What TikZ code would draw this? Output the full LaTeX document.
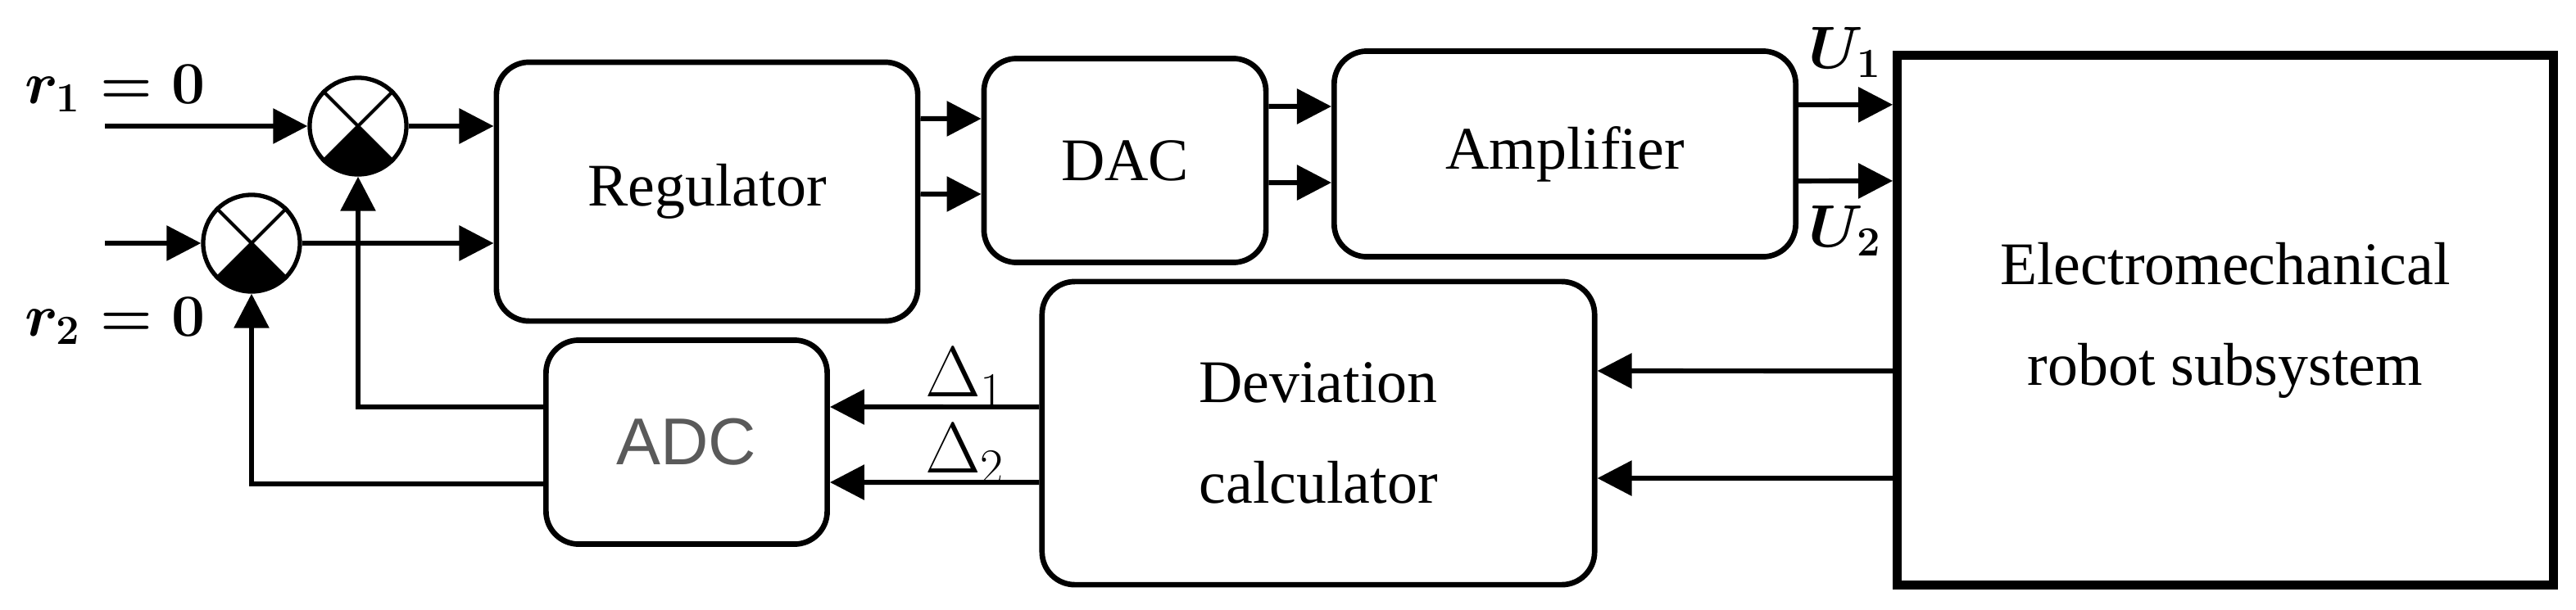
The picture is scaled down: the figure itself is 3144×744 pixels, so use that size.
\documentclass[tikz,border=0pt]{standalone}
\usepackage{fontspec}
\setmainfont{Liberation Serif}
\newfontfamily\adcfont{Liberation Sans}
\usetikzlibrary{arrows.meta}
\definecolor{adcgray}{RGB}{90,90,90}

\begin{document}
\begin{tikzpicture}[x=0.01cm, y=0.01cm, font=\fontsize{21}{35}\selectfont,
    blk/.style={draw, line width=1.9pt, rounded corners=0.4cm, inner sep=0pt, align=center},
    sumj/.style={draw, circle, line width=1.5pt, minimum size=1.18cm, inner sep=0pt},
    arr/.style={-{Triangle[length=0.42cm, width=0.42cm]}, line width=1.7pt},
    sig/.style={font=\fontsize{23}{27}\selectfont},
    bsig/.style={font=\fontsize{20}{24}\selectfont\boldmath}]
  \useasboundingbox (0,0) rectangle (3144,744);
  \node[blk, minimum width=5.14cm, minimum height=3.16cm] (reg) at (863,510) {Regulator};
  \node[blk, minimum width=3.44cm, minimum height=2.49cm] (dac) at (1373,548) {DAC};
  \node[blk, minimum width=5.63cm, minimum height=2.51cm] (amp) at (1910,556) {Amplifier};
  \node[draw, line width=3.2pt, minimum width=8.0cm, minimum height=6.46cm, align=center] (plant) at (2716,353) {Electromechanical\\robot subsystem};
  \node[blk, minimum width=6.74cm, minimum height=3.70cm] (dev) at (1609,215) {Deviation\\calculator};
  \node[blk, minimum width=3.43cm, minimum height=2.49cm, text=adcgray, font=\adcfont\fontsize{23}{27}\selectfont] (adc) at (838,204) {ADC};
  \node[sumj] (s1) at (437,590) {};
  \node[sumj] (s2) at (307,447) {};
  \foreach \s in {s1,s2} {
    \fill (\s.center) -- ++(225:0.59cm) arc[start angle=225, end angle=315, radius=0.59cm] -- cycle;
    \draw[line width=1.2pt] (\s.45) -- (\s.225) (\s.135) -- (\s.315);
  }
  \node[bsig, anchor=west] (r1) at (18,636) {$r_1 = 0$};
  \node[bsig, anchor=west] (r2) at (18,352) {$r_2 = 0$};
  \coordinate (in1) at (128,590);
  \coordinate (in2) at (128,447);
  \draw[arr] (in1) -- (s1);
  \draw[arr] (in2) -- (s2);
  \draw[arr] (s1) -- (s1 -| reg.west);
  \draw[arr] (s2) -- (s2 -| reg.west);
  \draw[arr] ([yshift=0.89cm]reg.east) -- ([yshift=0.51cm]dac.west);
  \draw[arr] ([yshift=-0.03cm]reg.east) -- ([yshift=-0.41cm]dac.west);
  \draw[arr] ([yshift=0.66cm]dac.east) -- ([yshift=0.58cm]amp.west);
  \draw[arr] ([yshift=-0.27cm]dac.east) -- ([yshift=-0.35cm]amp.west);
  \draw[arr] ([yshift=0.60cm]amp.east) -- ([yshift=2.63cm]plant.west);
  \draw[arr] ([yshift=-0.33cm]amp.east) -- ([yshift=1.70cm]plant.west);
  \draw[arr] ([yshift=-0.62cm]plant.west) -- ([yshift=0.76cm]dev.east);
  \draw[arr] ([yshift=-1.93cm]plant.west) -- ([yshift=-0.55cm]dev.east);
  \draw[arr] ([yshift=0.32cm]dev.west) -- ([yshift=0.43cm]adc.east);
  \draw[arr] ([yshift=-0.60cm]dev.west) -- ([yshift=-0.49cm]adc.east);
  \draw[arr] ([yshift=0.43cm]adc.west) -| (s1);
  \draw[arr] ([yshift=-0.51cm]adc.west) -| (s2);
  \node[bsig] (u1) at (2252,680) {$U_1$};
  \node[bsig] (u2) at (2252,462) {$U_2$};
  \node[sig] (d1) at (1178,283) {$\Delta_1$};
  \node[sig] (d2) at (1178,190) {$\Delta_2$};
\end{tikzpicture}
\end{document}
